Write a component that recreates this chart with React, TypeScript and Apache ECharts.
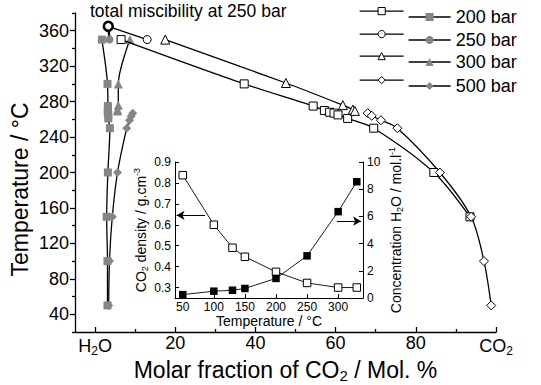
import React, { useEffect, useRef } from 'react';
import * as echarts from 'echarts';

const FONT = '"Liberation Sans", Arial, Helvetica, sans-serif';

// Legend labels (one per pressure)
const pressures = ['200 bar', '250 bar', '300 bar', '500 bar'];

// CO2-rich phase, [mol % CO2, T / °C]
const co2Rich200 = [[6.5, 350], [37.2, 300], [54.4, 275], [57.2, 270], [58.5, 268], [59.6, 267], [60.6, 265], [63, 261], [69.5, 250], [84.5, 200], [93.5, 150]];
const co2Rich250 = [[3.3, 365], [13, 350]];
const co2Rich300 = [[17.5, 350], [47.6, 301], [61.8, 276], [64.3, 271], [64.8, 269.5]];
const co2Rich500 = [[68, 267], [69, 264], [71.3, 259], [75.4, 250], [86, 200], [93.8, 150], [97, 100], [98.8, 50]];

// H2O-rich phase, [mol % CO2, T / °C]
const h2oRich200 = [[1.7, 350], [3.1, 300], [3.2, 275], [3.2, 271], [3.2, 268], [3.2, 267], [3.3, 265], [3.3, 261], [3.7, 250], [3.2, 200], [2.9, 150], [3.1, 100], [3.1, 50]];
const h2oRich250 = [[3.6, 350], [3.3, 365]];
const h2oRich300 = [[8.7, 350], [5.8, 300], [5.8, 276], [5.6, 271], [5.6, 269.5]];
const h2oRich500 = [[9.4, 267], [9, 263.5], [8.6, 259], [7.9, 250], [5.6, 200], [4.3, 150], [3.6, 100], [3.4, 50]];

// Main axis ticks
const xMajor = [0, 20, 40, 60, 80, 100];
const xMinor = [10, 30, 50, 70, 90];
const yMajor = [40, 80, 120, 160, 200, 240, 280, 320, 360];
const yMinor = [20, 60, 100, 140, 180, 220, 260, 300, 340, 380];

// Inset: CO2 density and H2O concentration vs temperature
const insetTemps = [50, 100, 130, 150, 200, 250, 300, 330];
const co2Density = [0.837, 0.6, 0.49, 0.447, 0.375, 0.322, 0.3, 0.3];
const h2oConc = [0.25, 0.5, 0.57, 0.7, 1.44, 3.1, 6.35, 8.55];
const insetXTicks = [50, 100, 150, 200, 250, 300];
const insetDensityTicks = [0.3, 0.4, 0.5, 0.6, 0.7, 0.8, 0.9];

const symbols = ['rect', 'circle', 'triangle', 'diamond'];
const sizes = [8, 8, 9, 9];
const legendRowTops = [7, 30, 52, 76];

const subRich = (f: number, shift = 0.6) => ({
  sub: { fontSize: Math.round(f * 0.65), padding: [Math.round(f * shift), 0, 0, 0], fontFamily: FONT, color: '#000' },
  sup: { fontSize: Math.round(f * 0.65), padding: [0, 0, Math.round(f * shift), 0], fontFamily: FONT, color: '#000' },
});

export default function App() {
  const ref = useRef<HTMLDivElement>(null);

  useEffect(() => {
    if (!ref.current) return;
    const chart = echarts.init(ref.current, undefined, { renderer: 'svg' });

    const openData = [co2Rich200, co2Rich250, co2Rich300, co2Rich500];
    const filledData = [h2oRich200, h2oRich250, h2oRich300, h2oRich500];
    const openNames = pressures.map((p) => p + ' CO2-rich');

    const filledSeries = pressures.map((p, i) => ({
      name: p,
      type: 'line',
      xAxisIndex: 0,
      yAxisIndex: 0,
      data: filledData[i],
      smooth: 0.3,
      symbol: symbols[i],
      symbolSize: sizes[i],
      showAllSymbol: true,
      lineStyle: { color: '#000', width: i === 1 ? 2.2 : 1.3 },
      itemStyle: { color: '#858585', borderWidth: 0 },
      z: 3,
    }));

    const openSeries = pressures.map((p, i) => ({
      name: openNames[i],
      type: 'line',
      xAxisIndex: 0,
      yAxisIndex: 0,
      data: openData[i].map((pt, j) =>
        i === 1 && j === 0
          ? { value: pt, symbolSize: 9, itemStyle: { color: '#fff', borderColor: '#000', borderWidth: 2.6 } }
          : pt
      ),
      smooth: 0.3,
      symbol: symbols[i],
      symbolSize: sizes[i],
      showAllSymbol: true,
      lineStyle: { color: '#000', width: 1.3 },
      itemStyle: { color: '#fff', borderColor: '#000', borderWidth: 1 },
      z: 4,
    }));

    // one legend per row and column: open (CO2-rich) sample, then filled sample with its label
    const legends: any[] = [];
    pressures.forEach((p, i) => {
      legends.push({
        data: [openNames[i]],
        left: 359,
        top: legendRowTops[i],
        padding: 0,
        itemWidth: 44,
        itemHeight: 9,
        selectedMode: false,
        formatter: () => '',
        lineStyle: { width: 1.3 },
        itemStyle: { borderWidth: 1 },
        textStyle: { fontSize: 18, lineHeight: 20 },
      });
      legends.push({
        data: [p],
        left: 408,
        top: legendRowTops[i],
        padding: 0,
        itemWidth: 42,
        itemHeight: 10,
        selectedMode: false,
        lineStyle: { width: 1.3 },
        textStyle: { fontSize: 18, lineHeight: 20, color: '#000', fontFamily: FONT },
      });
    });

    const axisLineStyle = { color: '#000', width: 1.3 };

    chart.setOption({
      animation: false,
      backgroundColor: '#fff',
      textStyle: { fontFamily: FONT },
      title: {
        text: 'total miscibility at 250 bar',
        left: 90,
        top: 2,
        padding: 0,
        textStyle: { fontSize: 17.5, fontWeight: 'normal', color: '#000', fontFamily: FONT },
      },
      legend: legends,
      grid: [
        { left: 75, right: 45, top: 13, bottom: 53, outerBoundsMode: 'none' },
        { left: 175, right: 178, top: 162, bottom: 87, outerBoundsMode: 'none' },
      ],
      xAxis: [
        {
          gridIndex: 0,
          type: 'value',
          min: -5,
          max: 100,
          position: 'bottom',
          axisLine: { onZero: false, lineStyle: axisLineStyle },
          splitLine: { show: false },
          axisTick: { inside: true, length: 5, customValues: xMajor, lineStyle: axisLineStyle },
          axisLabel: {
            customValues: xMajor,
            fontSize: 18,
            color: '#000',
            margin: 2,
            fontFamily: FONT,
            formatter: (v: number) => (v === 0 ? 'H{sub|2}O' : v === 100 ? 'CO{sub|2}' : String(v)),
            rich: subRich(18),
          },
          name: 'Molar fraction of CO{sub|2} / Mol. %',
          nameLocation: 'middle',
          nameMoveOverlap: false,
          nameGap: 24,
          nameTextStyle: { fontSize: 23, color: '#000', fontFamily: FONT, rich: subRich(23, 0.5) },
        },
        {
          gridIndex: 0,
          type: 'value',
          min: -5,
          max: 100,
          position: 'bottom',
          axisLine: { show: false, onZero: false },
          splitLine: { show: false },
          axisTick: { inside: true, length: 3, customValues: xMinor, lineStyle: axisLineStyle },
          axisLabel: { show: false },
        },
        {
          gridIndex: 1,
          type: 'value',
          min: 37.5,
          max: 340,
          position: 'bottom',
          axisLine: { onZero: false, lineStyle: { color: '#000', width: 1 } },
          splitLine: { show: false },
          axisTick: { inside: true, length: 4, customValues: insetXTicks, lineStyle: { color: '#000', width: 1 } },
          axisLabel: { customValues: insetXTicks, fontSize: 12, color: '#000', margin: 3, fontFamily: FONT },
          name: 'Temperature / °C',
          nameLocation: 'middle',
          nameGap: 15,
          nameTextStyle: { fontSize: 14, color: '#000', fontFamily: FONT },
        },
      ],
      yAxis: [
        {
          gridIndex: 0,
          type: 'value',
          min: 20,
          max: 380,
          position: 'left',
          axisLine: { show: true, onZero: false, lineStyle: axisLineStyle },
          splitLine: { show: false },
          axisTick: { inside: false, length: 5, customValues: yMajor, lineStyle: axisLineStyle },
          axisLabel: { customValues: yMajor, fontSize: 18, color: '#000', margin: 6, fontFamily: FONT },
          name: 'Temperature / °C',
          nameLocation: 'middle',
          nameMoveOverlap: false,
          nameRotate: 90,
          nameGap: 44,
          nameTextStyle: { fontSize: 23, color: '#000', fontFamily: FONT, padding: [0, 34, 0, 0] },
        },
        {
          gridIndex: 0,
          type: 'value',
          min: 20,
          max: 380,
          position: 'left',
          axisLine: { show: false, onZero: false },
          splitLine: { show: false },
          axisTick: { inside: false, length: 3, customValues: yMinor, lineStyle: axisLineStyle },
          axisLabel: { show: false },
        },
        {
          gridIndex: 1,
          type: 'value',
          min: 0.25,
          max: 0.9,
          position: 'left',
          axisLine: { show: true, onZero: false, lineStyle: { color: '#000', width: 1 } },
          splitLine: { show: false },
          axisTick: { inside: true, length: 4, customValues: insetDensityTicks, lineStyle: { color: '#000', width: 1 } },
          axisLabel: {
            customValues: insetDensityTicks,
            fontSize: 12,
            color: '#000',
            margin: 4,
            fontFamily: FONT,
            formatter: (v: number) => v.toFixed(1),
          },
          name: 'CO{sub|2} density / g.cm{sup|-3}',
          nameLocation: 'middle',
          nameRotate: 90,
          nameGap: 26,
          nameTextStyle: { fontSize: 14, color: '#000', fontFamily: FONT, rich: subRich(14) },
        },
        {
          gridIndex: 1,
          type: 'value',
          min: 0,
          max: 10,
          interval: 2,
          position: 'right',
          axisLine: { show: true, onZero: false, lineStyle: { color: '#000', width: 1 } },
          splitLine: { show: false },
          axisTick: { inside: true, length: 4, lineStyle: { color: '#000', width: 1 } },
          axisLabel: { fontSize: 12, color: '#000', margin: 4, fontFamily: FONT },
          name: 'Concentration H{sub|2}O / mol.l{sup|-1}',
          nameLocation: 'middle',
          nameRotate: 90,
          nameGap: 24,
          nameTextStyle: { fontSize: 14, color: '#000', fontFamily: FONT, rich: subRich(14) },
        },
      ],
      series: [
        ...filledSeries,
        ...openSeries,
        {
          name: 'CO2 density',
          type: 'line',
          xAxisIndex: 2,
          yAxisIndex: 2,
          data: insetTemps.map((t, i) => [t, co2Density[i]]),
          symbol: 'rect',
          symbolSize: 7.5,
          lineStyle: { color: '#000', width: 0.9 },
          itemStyle: { color: '#fff', borderColor: '#000', borderWidth: 1 },
          markLine: {
            silent: true,
            symbol: ['none', 'arrow'],
            symbolSize: [7, 8],
            label: { show: false },
            lineStyle: { color: '#000', width: 1, type: 'solid' },
            data: [[{ coord: [86, 0.645] }, { coord: [40, 0.645] }]],
          },
        },
        {
          name: 'H2O concentration',
          type: 'line',
          xAxisIndex: 2,
          yAxisIndex: 3,
          data: insetTemps.map((t, i) => [t, h2oConc[i]]),
          symbol: 'rect',
          symbolSize: 7.5,
          lineStyle: { color: '#000', width: 0.9 },
          itemStyle: { color: '#000' },
          markLine: {
            silent: true,
            symbol: ['none', 'arrow'],
            symbolSize: [7, 8],
            label: { show: false },
            lineStyle: { color: '#000', width: 1, type: 'solid' },
            data: [[{ coord: [298, 5.65] }, { coord: [337, 5.65] }]],
          },
        },
      ],
    });

    return () => chart.dispose();
  }, []);

  return <div ref={ref} style={{ position: 'fixed', left: 0, top: 0, width: 541, height: 385 }} />;
}
